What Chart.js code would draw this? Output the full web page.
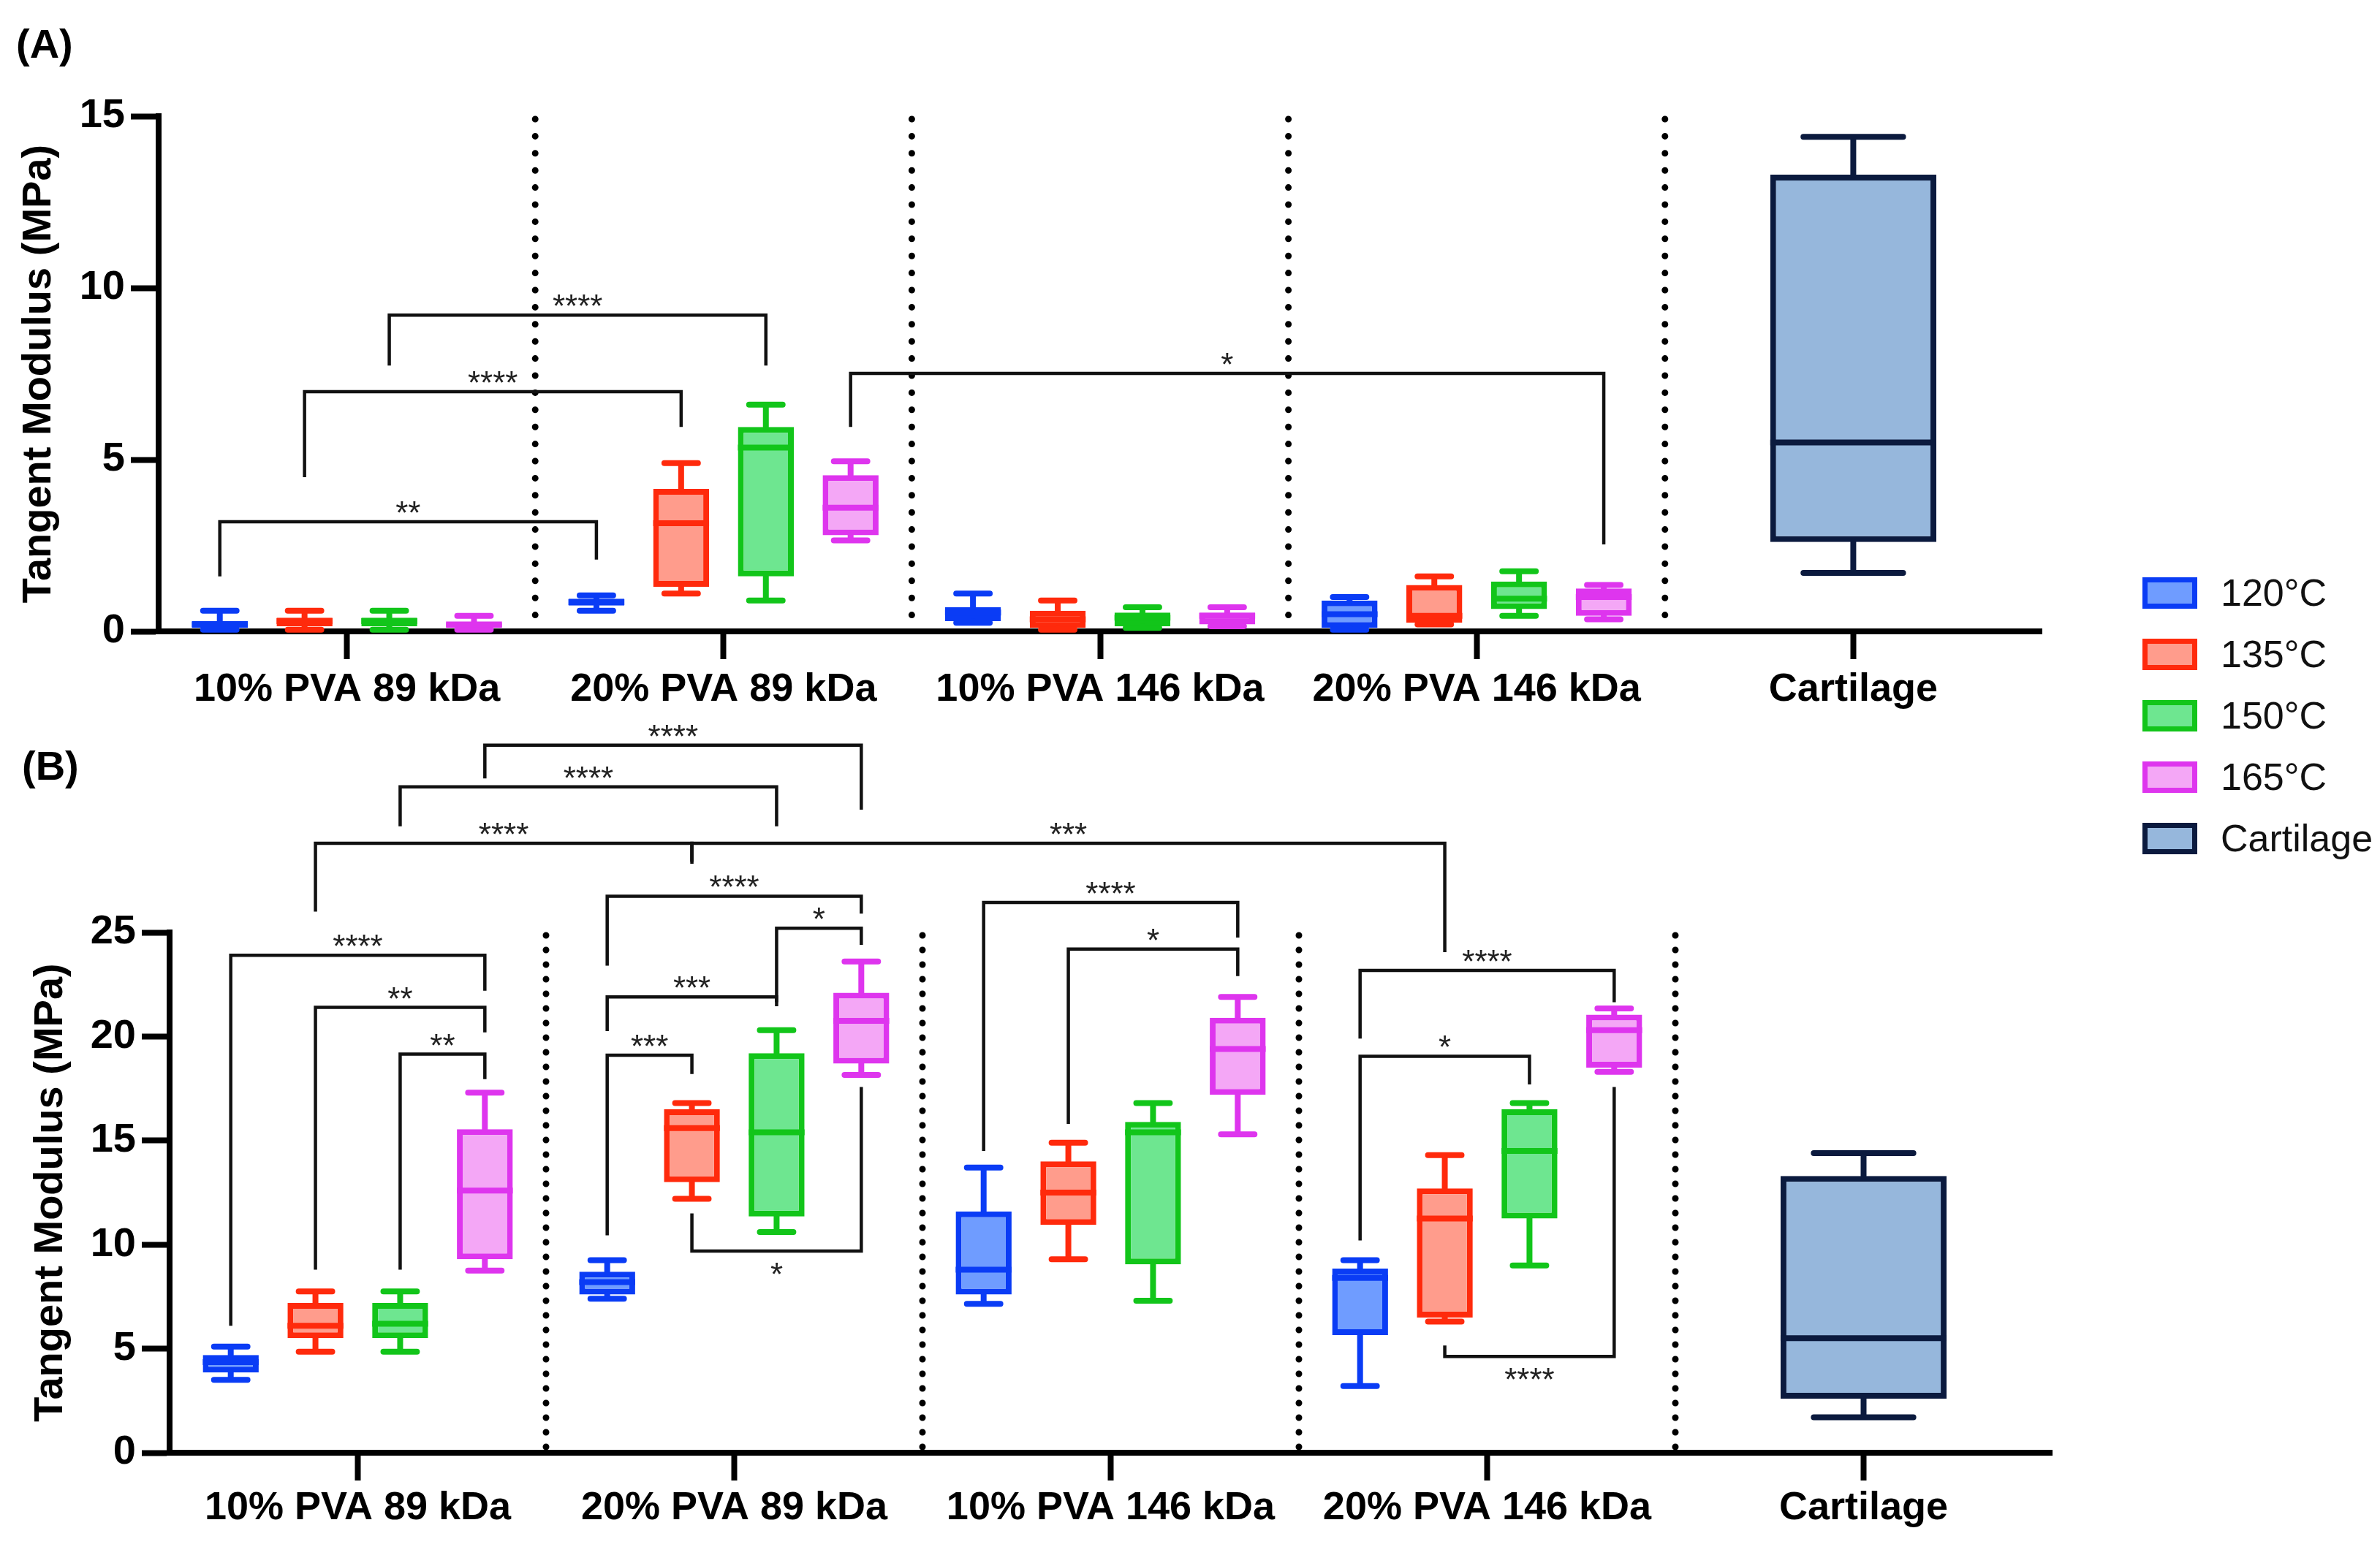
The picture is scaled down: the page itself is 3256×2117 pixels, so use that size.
<!DOCTYPE html>
<html>
<head>
<meta charset="utf-8">
<script src="https://cdn.jsdelivr.net/npm/chart.js@4.4.1/dist/chart.umd.min.js"></script>
<style>
  html, body { margin: 0; padding: 0; background: #fff; }
  body { width: 3256px; height: 2117px; position: relative; overflow: hidden; font-family: "Liberation Sans", Arial, sans-serif; }
  .wrap { position: absolute; left: 0; width: 3256px; }
  #wrapA { top: 0; height: 980px; }
  #wrapB { top: 980px; height: 1137px; }
  .tag { position: absolute; font-weight: bold; font-size: 56px; line-height: 1; color: #000; }
  #legend { position: absolute; left: 2931px; top: 769px; }
  .row { display: flex; align-items: center; height: 84px; }
  .sw { width: 61px; height: 29px; border: 7px solid #000; margin-right: 32px; }
  .lbl { font-size: 52px; color: #111; }
</style>
</head>
<body>
<div class="tag" style="left:22px; top:32px;">(A)</div>
<div class="tag" style="left:30px; top:1020px;">(B)</div>
<div class="wrap" id="wrapA"><canvas id="chartA" width="3256" height="980"></canvas></div>
<div class="wrap" id="wrapB"><canvas id="chartB" width="3256" height="1137"></canvas></div>
<div id="legend"></div>

<script>
// groups on the x axis
var groups = ['10% PVA 89 kDa', '20% PVA 89 kDa', '10% PVA 146 kDa', '20% PVA 146 kDa', 'Cartilage'];
var seriesNames = ['120°C', '135°C', '150°C', '165°C', 'Cartilage'];
var lineColors = ['#0a3cf5', '#ff2a0c', '#12c51a', '#de35ee', '#0b1a3e'];
var fillColors = ['#6f9cff', '#ff9c8c', '#6ee690', '#f4a7f6', '#96b7dc'];

// box values per group: [min, q1, median, q3, max]  (A)
var a120 = [[0.05, 0.1, 0.2, 0.3, 0.6], [0.6, 0.75, 0.85, 0.95, 1.05], [0.25, 0.3, 0.55, 0.7, 1.1], [0.05, 0.1, 0.5, 0.9, 1.0]];
var a135 = [[0.05, 0.15, 0.3, 0.4, 0.6], [1.1, 1.3, 3.15, 4.15, 4.9], [0.05, 0.1, 0.35, 0.6, 0.9], [0.2, 0.25, 0.45, 1.35, 1.6]];
var a150 = [[0.05, 0.15, 0.3, 0.4, 0.6], [0.9, 1.6, 5.35, 5.95, 6.6], [0.1, 0.15, 0.4, 0.55, 0.7], [0.45, 0.65, 0.95, 1.45, 1.75]];
var a165 = [[0.05, 0.1, 0.2, 0.25, 0.45], [2.65, 2.8, 3.6, 4.55, 4.95], [0.15, 0.2, 0.45, 0.55, 0.7], [0.35, 0.45, 1.0, 1.25, 1.35]];

// (B)
var b120 = [[3.5, 3.85, 4.35, 4.7, 5.1], [7.4, 7.6, 8.2, 8.7, 9.25], [7.15, 7.6, 8.8, 11.6, 13.7], [3.2, 5.65, 8.4, 8.85, 9.25]];
var b135 = [[4.85, 5.5, 6.1, 7.2, 7.75], [12.2, 13.0, 15.6, 16.5, 16.8], [9.3, 10.95, 12.5, 14.0, 14.9], [6.3, 6.5, 11.25, 12.7, 14.3]];
var b150 = [[4.85, 5.5, 6.2, 7.2, 7.75], [10.6, 11.35, 15.4, 19.2, 20.3], [7.3, 9.05, 15.4, 15.9, 16.8], [9.0, 11.25, 14.5, 16.5, 16.8]];
var b165 = [[8.75, 9.3, 12.6, 15.55, 17.3], [18.15, 18.7, 20.75, 22.1, 23.6], [15.3, 17.2, 19.4, 20.9, 21.9], [18.3, 18.5, 20.3, 21.05, 21.35]];

var cartilage = [1.7, 2.6, 5.5, 13.3, 14.4];

var ticksA = [0, 5, 10, 15];
var ticksB = [0, 5, 10, 15, 20, 25];

// significance: [groupA, seriesA, groupB, seriesB, bar, legA, legB, label]
var sigA = [
  [0, 2, 1, 2, 9.21, 7.74, 7.74, '****'],
  [0, 1, 1, 1, 6.98, 4.49, 5.95, '****'],
  [0, 0, 1, 0, 3.19, 1.6, 2.09, '**'],
  [1, 3, 3, 3, 7.51, 5.95, 2.53, '*']
];
var sigB = [
  [0, 3, 1, 3, 34.0, 32.4, 30.9, '****'],
  [0, 2, 1, 2, 32.0, 30.1, 30.1, '****'],
  [0, 1, 1, 1, 29.28, 26.0, 28.4, '****'],
  [1, 1, 3, 1, 29.28, 28.3, 24.05, '***'],
  [1, 0, 1, 3, 26.74, 23.4, 25.9, '****'],
  [1, 2, 1, 3, 25.2, 21.65, 24.4, '*'],
  [1, 0, 1, 2, 21.9, 20.26, 21.45, '***'],
  [1, 0, 1, 1, 19.1, 10.45, 18.2, '***'],
  [1, 1, 1, 3, 9.69, 11.5, 17.57, '*'],
  [0, 0, 0, 3, 23.9, 6.1, 22.2, '****'],
  [0, 1, 0, 3, 21.4, 8.8, 20.2, '**'],
  [0, 2, 0, 3, 19.15, 8.8, 17.95, '**'],
  [2, 0, 2, 3, 26.44, 14.5, 24.75, '****'],
  [2, 1, 2, 3, 24.2, 15.8, 22.9, '*'],
  [3, 0, 3, 3, 23.17, 19.9, 21.65, '****'],
  [3, 0, 3, 2, 19.05, 10.2, 17.7, '*'],
  [3, 1, 3, 3, 4.63, 5.15, 17.57, '****']
];

var FONT = '"Liberation Sans", Arial, sans-serif';

function boxDataset(i, rows) {
  return {
    label: seriesNames[i],
    data: rows.map(function (r) { return r ? [r[1], r[3]] : null; }),
    stats: rows,
    backgroundColor: fillColors[i],
    borderColor: lineColors[i],
    borderWidth: 8,
    borderSkipped: false,
    borderRadius: 0,
    skipNull: true,
    categoryPercentage: 0.9,
    barPercentage: i === 4 ? 0.49 : 0.66
  };
}

// whiskers + median line
var boxPlugin = {
  id: 'boxExtras',
  afterDatasetsDraw: function (chart) {
    var ctx = chart.ctx, y = chart.scales.y;
    chart.data.datasets.forEach(function (ds, di) {
      var meta = chart.getDatasetMeta(di);
      meta.data.forEach(function (bar, i) {
        var s = ds.stats[i];
        if (!s) return;
        var cap = bar.width * 0.6;
        var yMin = y.getPixelForValue(s[0]), yQ1 = y.getPixelForValue(s[1]);
        var yMed = y.getPixelForValue(s[2]), yQ3 = y.getPixelForValue(s[3]);
        var yMax = y.getPixelForValue(s[4]);
        ctx.save();
        ctx.strokeStyle = ds.borderColor;
        ctx.lineWidth = 8;
        ctx.lineCap = 'round';
        ctx.beginPath();
        ctx.moveTo(bar.x, yQ3); ctx.lineTo(bar.x, yMax);
        ctx.moveTo(bar.x, yQ1); ctx.lineTo(bar.x, yMin);
        ctx.moveTo(bar.x - cap / 2, yMax); ctx.lineTo(bar.x + cap / 2, yMax);
        ctx.moveTo(bar.x - cap / 2, yMin); ctx.lineTo(bar.x + cap / 2, yMin);
        ctx.stroke();
        ctx.lineCap = 'butt';
        ctx.beginPath();
        ctx.moveTo(bar.x - bar.width / 2, yMed); ctx.lineTo(bar.x + bar.width / 2, yMed);
        ctx.stroke();
        ctx.restore();
      });
    });
  }
};

// dotted lines between the groups
var sepPlugin = {
  id: 'separators',
  beforeDatasetsDraw: function (chart, args, opts) {
    var x = chart.scales.x, area = chart.chartArea, ctx = chart.ctx;
    ctx.save();
    ctx.strokeStyle = '#000';
    ctx.lineWidth = 9;
    ctx.lineCap = 'round';
    ctx.setLineDash([0, opts.gap]);
    for (var i = 0; i < groups.length - 1; i++) {
      var px = (x.getPixelForValue(i) + x.getPixelForValue(i + 1)) / 2;
      ctx.beginPath();
      ctx.moveTo(px, area.top + 4);
      ctx.lineTo(px, area.bottom - 4);
      ctx.stroke();
    }
    ctx.restore();
  }
};

// brackets with stars
var sigPlugin = {
  id: 'sig',
  afterDatasetsDraw: function (chart, args, opts) {
    var ctx = chart.ctx, y = chart.scales.y;
    ctx.save();
    ctx.strokeStyle = '#111';
    ctx.lineWidth = 4.5;
    ctx.fillStyle = '#222';
    ctx.font = '44px ' + FONT;
    ctx.textAlign = 'center';
    ctx.textBaseline = 'alphabetic';
    opts.list.forEach(function (b) {
      var xA = chart.getDatasetMeta(b[1]).data[b[0]].x;
      var xB = chart.getDatasetMeta(b[3]).data[b[2]].x;
      var yBar = y.getPixelForValue(b[4]);
      ctx.beginPath();
      ctx.moveTo(xA, y.getPixelForValue(b[5]));
      ctx.lineTo(xA, yBar);
      ctx.lineTo(xB, yBar);
      ctx.lineTo(xB, y.getPixelForValue(b[6]));
      ctx.stroke();
      var below = b[4] < b[5];
      ctx.fillText(b[7], (xA + xB) / 2, below ? yBar + 47 : yBar + 3);
    });
    ctx.restore();
  }
};

function makeChart(id, rows, yTicks, sig, pad, yWidth, xHeight, titlePad, xPad, gap) {
  var ds = [];
  for (var i = 0; i < 4; i++) ds.push(boxDataset(i, rows[i].concat([null])));
  ds.push(boxDataset(4, [null, null, null, null, cartilage]));
  return new Chart(document.getElementById(id), {
    type: 'bar',
    data: { labels: groups, datasets: ds },
    plugins: [sepPlugin, boxPlugin, sigPlugin],
    options: {
      responsive: false,
      animation: false,
      layout: { padding: pad },
      plugins: {
        legend: { display: false },
        tooltip: { enabled: false },
        separators: { gap: gap },
        sig: { list: sig }
      },
      scales: {
        x: {
          offset: true,
          grid: { drawOnChartArea: false, offset: false, tickLength: 38, tickWidth: 8, tickColor: '#000' },
          border: { color: '#000', width: 8 },
          ticks: { color: '#000', padding: xPad, maxRotation: 0, autoSkip: false, font: { family: FONT, size: 54, weight: 'bold' } },
          afterFit: function (s) { s.height = xHeight; }
        },
        y: {
          min: 0,
          max: yTicks[yTicks.length - 1],
          afterBuildTicks: function (s) { s.ticks = yTicks.map(function (v) { return { value: v }; }); },
          grid: { drawOnChartArea: false, tickLength: 38, tickWidth: 8, tickColor: '#000' },
          border: { color: '#000', width: 8 },
          ticks: { color: '#000', padding: 8, font: { family: FONT, size: 56, weight: 'bold' } },
          title: { display: true, text: 'Tangent Modulus (MPa)', color: '#000', padding: { top: titlePad, bottom: 0 }, font: { family: FONT, size: 56, weight: 'bold' } },
          afterFit: function (s) { s.width = yWidth; }
        }
      }
    }
  });
}

makeChart('chartA', [a120, a135, a150, a165], ticksA, sigA, { top: 159, right: 463, left: 0, bottom: 0 }, 217, 116, 20, 10, 23.4);
makeChart('chartB', [b120, b135, b150, b165], ticksB, sigB, { top: 296, right: 449, left: 0, bottom: 0 }, 232, 129, 36, 6, 20);

// legend
var leg = document.getElementById('legend');
seriesNames.forEach(function (name, i) {
  var row = document.createElement('div');
  row.className = 'row';
  var sw = document.createElement('div');
  sw.className = 'sw';
  sw.style.borderColor = lineColors[i];
  sw.style.background = fillColors[i];
  var t = document.createElement('div');
  t.className = 'lbl';
  t.textContent = name;
  row.appendChild(sw);
  row.appendChild(t);
  leg.appendChild(row);
});
</script>
</body>
</html>
